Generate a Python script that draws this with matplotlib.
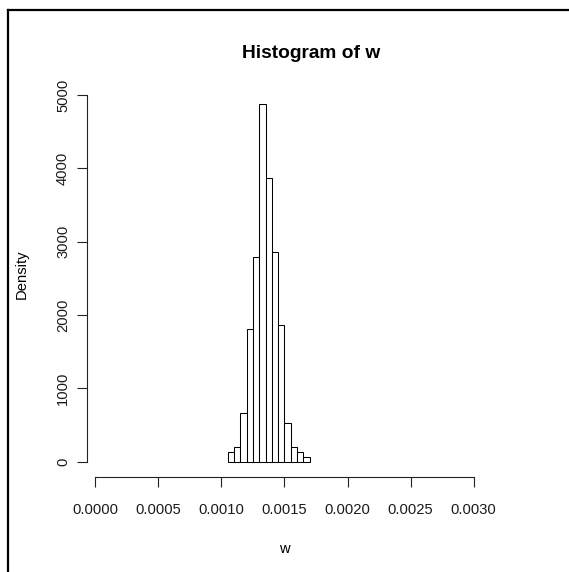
import matplotlib
matplotlib.use('Agg')
import matplotlib.pyplot as plt
from matplotlib.lines import Line2D

plt.rcParams['font.family'] = ['Liberation Sans', 'DejaVu Sans']

# histogram of w (density scale), bin edges every 0.00005
bin_left = [0.00105, 0.00110, 0.00115, 0.00120, 0.00125, 0.00130, 0.00135,
            0.00140, 0.00145, 0.00150, 0.00155, 0.00160, 0.00165]
density = [128, 196, 660, 1805, 2796, 4874, 3864,
           2864, 1868, 532, 196, 128, 60]
x_ticks = [0.0, 0.0005, 0.0010, 0.0015, 0.0020, 0.0025, 0.0030]
x_labels = ['0.0000', '0.0005', '0.0010', '0.0015', '0.0020', '0.0025', '0.0030']
y_ticks = [0, 1000, 2000, 3000, 4000, 5000]

fig = plt.figure(figsize=(5.69, 5.72), dpi=100)
ax = fig.add_axes([0.1524, 0.1666, 0.7264, 0.6935])

ax.bar(bin_left, density, width=0.00005, align='edge',
       color='white', edgecolor='black', linewidth=0.75)

ax.set_xlim(-0.0000682, 0.003209)
ax.set_ylim(-204.5, 5205)

for s in ['top', 'right']:
    ax.spines[s].set_visible(False)
ax.spines['left'].set_bounds(0, 5000)
ax.spines['bottom'].set_bounds(0, 0.003)
for s in ['left', 'bottom']:
    ax.spines[s].set_linewidth(0.8)
    ax.spines[s].set_color('#222222')

ax.set_xticks(x_ticks)
ax.set_xticklabels(x_labels)
ax.set_yticks(y_ticks)
ax.set_yticklabels([str(v) for v in y_ticks], rotation=90, va='center')
ax.tick_params(axis='both', direction='out', length=7, width=0.8,
               color='#222222', labelsize=10.6, labelcolor='#1a1a1a')
ax.tick_params(axis='x', pad=12)
ax.tick_params(axis='y', pad=5)

fig.text(310.8 / 569, 1 - 53 / 572, 'Histogram of w', ha='center', va='center',
         fontsize=13.8, fontweight='bold')
fig.text(284.5 / 569, 1 - 549 / 572, 'w', ha='center', va='center', fontsize=10.6)
fig.text(22 / 569, 1 - 274 / 572, 'Density', ha='center', va='center',
         rotation=90, fontsize=10.6)

# outer frame lines (left and top)
fig.add_artist(Line2D([7.5 / 569, 7.5 / 569], [0, 1 - 10 / 572],
                      transform=fig.transFigure, color='black', linewidth=1.6))
fig.add_artist(Line2D([7.5 / 569, 1], [1 - 10 / 572, 1 - 10 / 572],
                      transform=fig.transFigure, color='black', linewidth=1.6))

fig.savefig('out.png', dpi=100)
